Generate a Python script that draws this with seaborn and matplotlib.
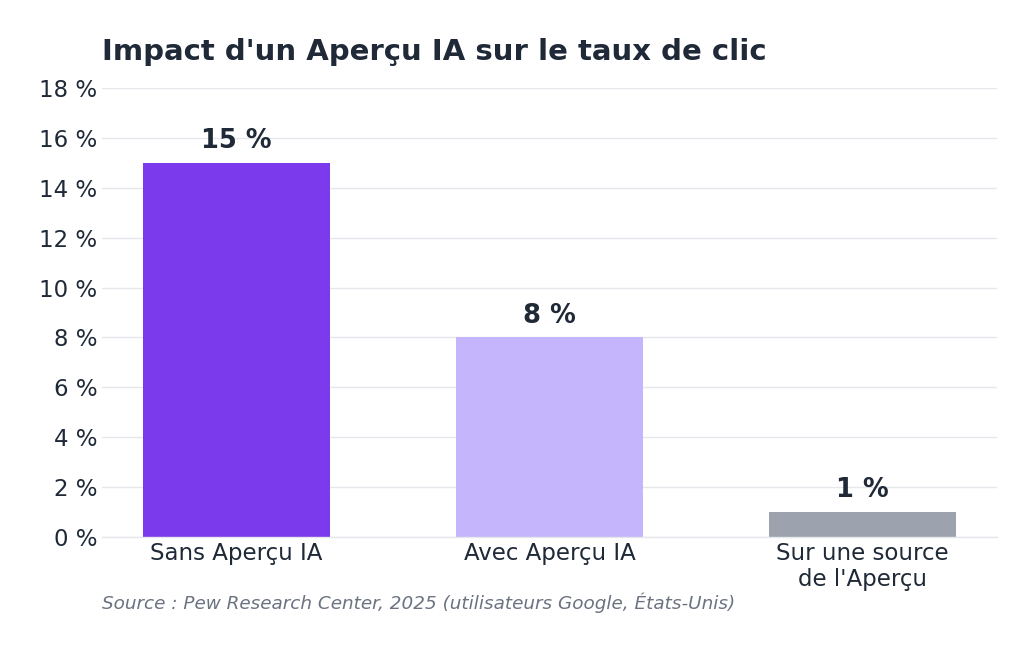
import matplotlib
matplotlib.use("Agg")
import matplotlib.pyplot as plt
import seaborn as sns
import pandas as pd

categories = ["Sans Aperçu IA", "Avec Aperçu IA", "Sur une source\nde l'Aperçu"]
values = [15, 8, 1]
colors = ["#7c3aed", "#c4b5fd", "#9ca3af"]
value_labels = ["15 %", "8 %", "1 %"]
yticks = [0, 2, 4, 6, 8, 10, 12, 14, 16, 18]
title = "Impact d'un Aperçu IA sur le taux de clic"
source = "Source : Pew Research Center, 2025 (utilisateurs Google, États-Unis)"

sns.set_theme(style="white")
plt.rcParams['font.family'] = ['DejaVu Sans']

df = pd.DataFrame({"cat": categories, "val": values})

fig = plt.figure(figsize=(10.35, 6.51), dpi=100)
ax = fig.add_axes([102/1035, 1-537/651, (997-102)/1035, (537-88)/651])

sns.barplot(data=df, x="cat", y="val", hue="cat", palette=colors, width=0.6,
            legend=False, ax=ax, saturation=1, linewidth=0)

ax.set_ylim(0, 18)
ax.set_xlim(-0.43, 2.43)
ax.set_yticks(yticks)
ax.set_yticklabels([f"{t} %" for t in yticks])
ax.yaxis.grid(True, color="#e5e7eb", linewidth=1)
ax.set_axisbelow(True)
for s in ["top", "right", "left"]:
    ax.spines[s].set_visible(False)
ax.spines["bottom"].set_color("#e5e7eb")
ax.spines["bottom"].set_linewidth(1)
ax.set_xlabel("")
ax.set_ylabel("")
ax.tick_params(axis="both", length=0, labelsize=16.5, colors="#1f2937")
ax.tick_params(axis="y", pad=3.5)
ax.tick_params(axis="x", pad=3.5)
for lbl in ax.get_xticklabels():
    lbl.set_linespacing(1.2)

for i, (v, lab) in enumerate(zip(values, value_labels)):
    ax.text(i, v + 0.35, lab, ha="center", va="bottom", fontsize=18.5,
            fontweight="bold", color="#1f2937")

fig.text(102/1035, 1-52/651, title, ha="left", va="center", fontsize=21,
         fontweight="bold", color="#1f2937")
fig.text(102/1035, 1-603/651, source, ha="left", va="center", fontsize=13.2,
         style="italic", color="#6b7280")

fig.savefig("out.png", dpi=100)
